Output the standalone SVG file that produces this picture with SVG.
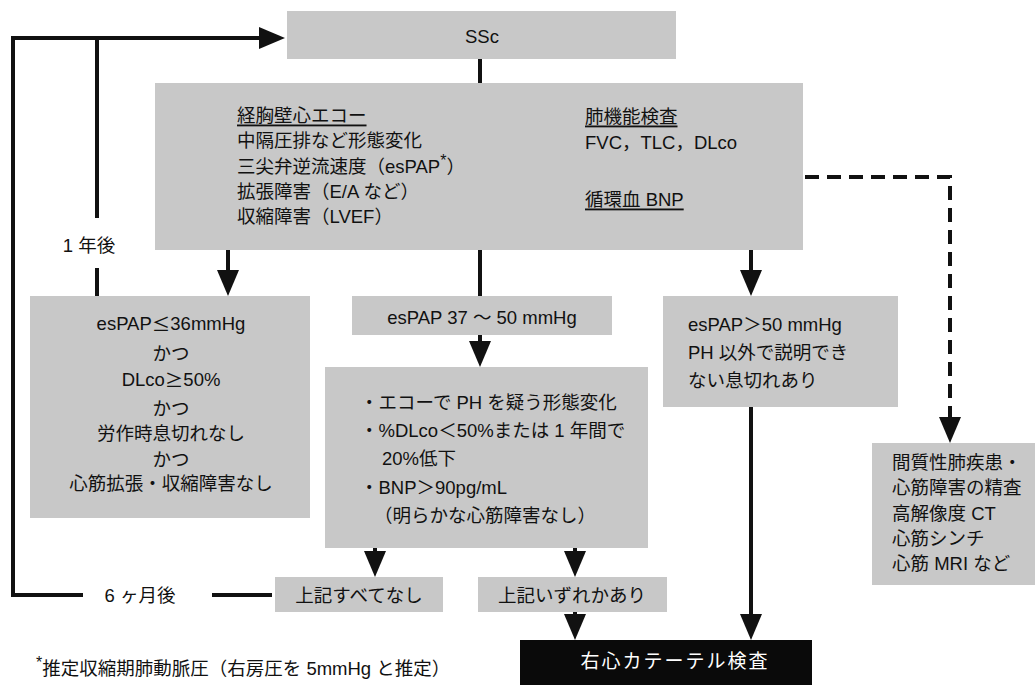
<svg xmlns="http://www.w3.org/2000/svg" width="1035" height="685" viewBox="0 0 1035 685">
<style>
  .box { fill: #c8c8c8; }
  .t { font-family: "Liberation Sans", "Noto Sans CJK JP", sans-serif; font-size: 18.5px; fill: #111; dominant-baseline: central; }
  .j { font-family: "Noto Sans CJK JP", sans-serif; }
  .c { text-anchor: middle; }
  .u { text-decoration: underline; }
  .ln { stroke: #111; stroke-width: 4; fill: none; }
  .dash { stroke: #111; stroke-width: 4; fill: none; stroke-dasharray: 14 8; }
</style>
<defs>
  <marker id="ah" viewBox="0 0 26 22" refX="18" refY="11" markerWidth="26" markerHeight="22" markerUnits="userSpaceOnUse" orient="auto">
    <path d="M0,0 L26,11 L0,22 Z" fill="#111"/>
  </marker>
</defs>
<rect width="1035" height="685" fill="#fff"/>

<g id="connectors">
  <line class="ln" x1="480" y1="59" x2="480" y2="84"/>
  <line class="ln" x1="228" y1="250" x2="228" y2="288" marker-end="url(#ah)"/>
  <line class="ln" x1="480" y1="250" x2="480" y2="297"/>
  <line class="ln" x1="480" y1="335" x2="480" y2="359" marker-end="url(#ah)"/>
  <line class="ln" x1="751" y1="250" x2="751" y2="288" marker-end="url(#ah)"/>
  <polyline class="dash" points="805,177 950,177 950,435" marker-end="url(#ah)"/>
  <line class="ln" x1="375" y1="548" x2="375" y2="569" marker-end="url(#ah)"/>
  <line class="ln" x1="575" y1="548" x2="575" y2="569" marker-end="url(#ah)"/>
  <line class="ln" x1="575" y1="612" x2="575" y2="632" marker-end="url(#ah)"/>
  <line class="ln" x1="751" y1="407" x2="751" y2="632" marker-end="url(#ah)"/>
  <line class="ln" x1="272" y1="595" x2="212" y2="595"/>
  <polyline class="ln" points="83,595 13,595 13,38 277,38" marker-end="url(#ah)"/>
  <line class="ln" x1="97" y1="38" x2="97" y2="218"/>
  <line class="ln" x1="97" y1="268" x2="97" y2="296"/>
  <text class="t c" x="89" y="245">1 年後</text>
  <text class="t c" x="140" y="595">6 ヶ月後</text>
</g>

<g id="ssc">
  <rect class="box" x="287" y="11" width="389" height="48"/>
  <text class="t c" x="482" y="36">SSc</text>
</g>

<g id="screening">
  <rect class="box" x="155" y="83" width="648" height="167"/>
  <text class="t u" x="237" y="115">経胸壁心エコー</text>
  <text class="t" x="237" y="140">中隔圧排など形態変化</text>
  <text class="t" x="237" y="166">三尖弁逆流速度（esPAP<tspan font-size="16" dy="-6">*</tspan><tspan dy="6">）</tspan></text>
  <text class="t" x="237" y="191">拡張障害（E/A など）</text>
  <text class="t" x="237" y="216">収縮障害（LVEF）</text>
  <text class="t u" x="585" y="116">肺機能検査</text>
  <text class="t" x="585" y="142">FVC，TLC，DLco</text>
  <text class="t u" x="585" y="199">循環血 BNP</text>
</g>

<g id="low">
  <rect class="box" x="30" y="296" width="280" height="222"/>
  <text class="t c" x="171" y="323">esPAP<tspan class="j">≤</tspan>36mmHg</text>
  <text class="t c" x="171" y="353">かつ</text>
  <text class="t c" x="171" y="379">DLco<tspan class="j">≥</tspan>50%</text>
  <text class="t c" x="171" y="408">かつ</text>
  <text class="t c" x="171" y="433">労作時息切れなし</text>
  <text class="t c" x="171" y="459">かつ</text>
  <text class="t c" x="171" y="483">心筋拡張・収縮障害なし</text>
</g>

<g id="mid">
  <rect class="box" x="352" y="296" width="260" height="39"/>
  <text class="t c" x="482" y="317">esPAP 37 〜 50 mmHg</text>
</g>

<g id="criteria">
  <rect class="box" x="325" y="367" width="323" height="181"/>
  <text class="t" x="360" y="402">・エコーで PH を疑う形態変化</text>
  <text class="t" x="360" y="430">・%DLco＜50%または 1 年間で</text>
  <text class="t" x="382" y="458">20%低下</text>
  <text class="t" x="360" y="487">・BNP＞90pg/mL</text>
  <text class="t" x="374" y="515">（明らかな心筋障害なし）</text>
</g>

<g id="none">
  <rect class="box" x="275" y="577" width="168" height="35"/>
  <text class="t c" x="359" y="595">上記すべてなし</text>
</g>

<g id="any">
  <rect class="box" x="478" y="577" width="189" height="35"/>
  <text class="t c" x="572" y="595">上記いずれかあり</text>
</g>

<g id="high">
  <rect class="box" x="663" y="296" width="235" height="111"/>
  <text class="t" x="688" y="324">esPAP＞50 mmHg</text>
  <text class="t" x="688" y="352">PH 以外で説明でき</text>
  <text class="t" x="688" y="380">ない息切れあり</text>
</g>

<g id="ild">
  <rect class="box" x="872" y="443" width="163" height="142"/>
  <text class="t" x="892" y="462">間質性肺疾患・</text>
  <text class="t" x="892" y="487">心筋障害の精査</text>
  <text class="t" x="892" y="513">高解像度 CT</text>
  <text class="t" x="892" y="538">心筋シンチ</text>
  <text class="t" x="892" y="563">心筋 MRI など</text>
</g>

<g id="rhc">
  <rect x="520" y="640" width="292" height="45" fill="#0a0a0a"/>
  <text class="t c" x="675" y="661" style="fill:#fff; letter-spacing:2px; font-size:19px">右心カテーテル検査</text>
</g>

<g id="footnote">
  <text class="t" x="36" y="668"><tspan font-size="16" dy="-6">*</tspan><tspan dy="6">推定収縮期肺動脈圧（右房圧を 5mmHg と推定）</tspan></text>
</g>
</svg>
